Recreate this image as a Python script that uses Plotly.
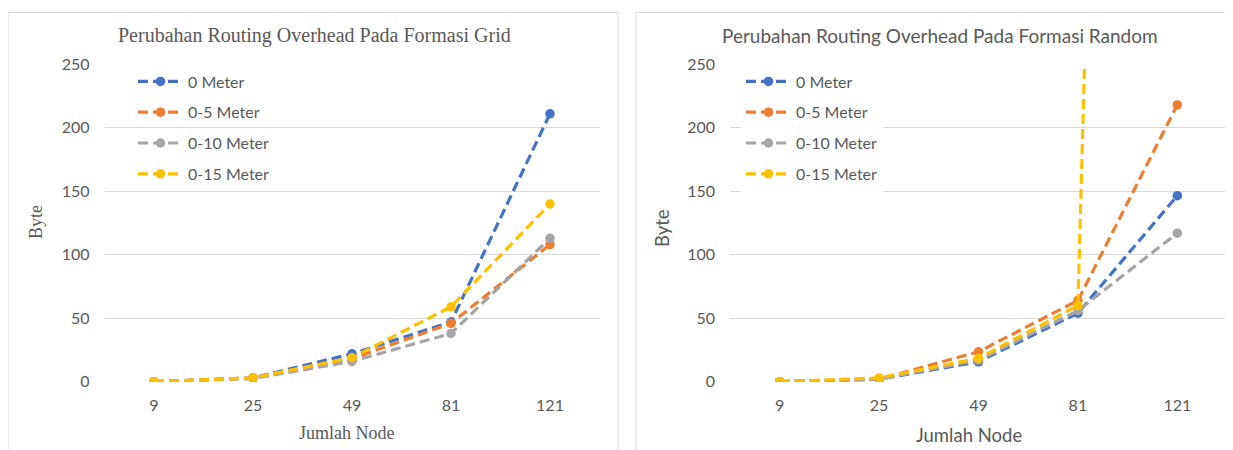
import plotly.graph_objects as go

# page body has an 8px default margin, so the figure is drawn 8px in and down
OFF = 8
W, H = 1233 - OFF, 450 - OFF

categories = ["9", "25", "49", "81", "121"]
series_names = ["0 Meter", "0-5 Meter", "0-10 Meter", "0-15 Meter"]
colors = ["#4472C4", "#ED7D31", "#A5A5A5", "#FFC000"]

grid_0m = [0, 3, 22, 47, 211]
grid_5m = [0, 3, 18, 46, 108]
grid_10m = [0, 2.5, 16, 38, 113]
grid_15m = [0, 3, 19, 59, 140]

random_0m = [0, 2, 15.7, 54, 146.5]
random_5m = [0, 2, 23.6, 64, 218]
random_10m = [0, 2, 17, 56, 117]
random_15m = [0, 3, 18.4, 60, 2900]

y_ticks = [0, 50, 100, 150, 200, 250]

grid_data = [grid_0m, grid_5m, grid_10m, grid_15m]
random_data = [random_0m, random_5m, random_10m, random_15m]


def px_x(p):
    return (p - OFF) / W


def px_y(p):
    return 1 - (p - OFF) / H


SERIF = "Liberation Serif, Times New Roman, serif"
SANS = "Lato, Carlito, Calibri, sans-serif"
TXT = "#595959"
GRID = "#D9D9D9"

fig = go.Figure()

for i, (name, col) in enumerate(zip(series_names, colors)):
    fig.add_trace(go.Scatter(
        x=categories, y=grid_data[i], name=name, mode="lines+markers",
        line=dict(color=col, width=3.2, dash="10px,5px"),
        marker=dict(color=col, size=9.5, symbol="circle"),
        xaxis="x", yaxis="y", legend="legend", legendgroup="g%d" % i,
    ))
for i, (name, col) in enumerate(zip(series_names, colors)):
    fig.add_trace(go.Scatter(
        x=categories, y=random_data[i], name=name, mode="lines+markers",
        line=dict(color=col, width=3.2, dash="10px,5px"),
        marker=dict(color=col, size=9.5, symbol="circle"),
        xaxis="x2", yaxis="y2", legend="legend2", legendgroup="r%d" % i,
    ))

ydom = [px_y(381.7), px_y(64.3)]

xcommon = dict(type="category", categoryorder="array", categoryarray=categories,
               range=[-0.5, 4.5], showgrid=False, zeroline=False, showline=False,
               ticks="", ticklabelstandoff=12, fixedrange=True)
ycommon = dict(range=[0, 250], tickvals=y_ticks, showgrid=True, gridcolor=GRID,
               gridwidth=1, zeroline=False, showline=False, ticks="",
               ticklabelstandoff=14, fixedrange=True)

fig.update_layout(
    width=W, height=H, template="none",
    margin=dict(l=0, r=0, t=0, b=0),
    paper_bgcolor="white", plot_bgcolor="rgba(0,0,0,0)",
    xaxis=dict(domain=[px_x(104.5), px_x(599.5)], anchor="y",
               tickfont=dict(family=SANS, size=16, color=TXT), **xcommon),
    yaxis=dict(domain=ydom, anchor="x",
               tickfont=dict(family=SANS, size=16, color=TXT), **ycommon),
    xaxis2=dict(domain=[px_x(730), px_x(1227)], anchor="y2",
                tickfont=dict(family=SANS, size=16, color=TXT), **xcommon),
    yaxis2=dict(domain=ydom, anchor="x2",
                tickfont=dict(family=SANS, size=16, color=TXT), **ycommon),
    legend=dict(x=px_x(133), y=px_y(64.5), xanchor="left", yanchor="top",
                bgcolor="rgba(0,0,0,0)", borderwidth=0, itemwidth=45,
                tracegroupgap=7, font=dict(family=SANS, size=16, color=TXT)),
    legend2=dict(x=px_x(741), y=px_y(64.5), xanchor="left", yanchor="top",
                 bgcolor="white", borderwidth=0, itemwidth=45,
                 tracegroupgap=7, font=dict(family=SANS, size=16, color=TXT)),
    shapes=[
        dict(type="rect", xref="paper", yref="paper",
             x0=px_x(8), x1=px_x(618), y0=px_y(470), y1=px_y(12.5),
             line=dict(color=GRID, width=1), fillcolor="rgba(0,0,0,0)", layer="below"),
        dict(type="rect", xref="paper", yref="paper",
             x0=px_x(636), x1=px_x(1250), y0=px_y(470), y1=px_y(12.5),
             line=dict(color=GRID, width=1), fillcolor="rgba(0,0,0,0)", layer="below"),
    ],
    annotations=[
        dict(text="Perubahan Routing Overhead Pada Formasi Grid", xref="paper", yref="paper",
             x=px_x(314), y=px_y(35), xanchor="center", yanchor="middle", showarrow=False,
             font=dict(family=SERIF, size=20, color=TXT)),
        dict(text="Perubahan Routing Overhead Pada Formasi Random", xref="paper", yref="paper",
             x=px_x(940), y=px_y(35), xanchor="center", yanchor="middle", showarrow=False,
             font=dict(family=SANS, size=19, color=TXT)),
        dict(text="Byte", xref="paper", yref="paper", textangle=-90,
             x=px_x(36), y=px_y(222), xanchor="center", yanchor="middle", showarrow=False,
             font=dict(family=SERIF, size=18, color=TXT)),
        dict(text="Jumlah Node", xref="paper", yref="paper",
             x=px_x(346), y=px_y(433), xanchor="center", yanchor="middle", showarrow=False,
             font=dict(family=SERIF, size=18, color=TXT)),
        dict(text="Byte", xref="paper", yref="paper", textangle=-90,
             x=px_x(662), y=px_y(228), xanchor="center", yanchor="middle", showarrow=False,
             font=dict(family=SANS, size=18.5, color=TXT)),
        dict(text="Jumlah Node", xref="paper", yref="paper",
             x=px_x(969), y=px_y(435), xanchor="center", yanchor="middle", showarrow=False,
             font=dict(family=SANS, size=18.5, color=TXT)),
    ],
)

fig.write_html("out.html")
